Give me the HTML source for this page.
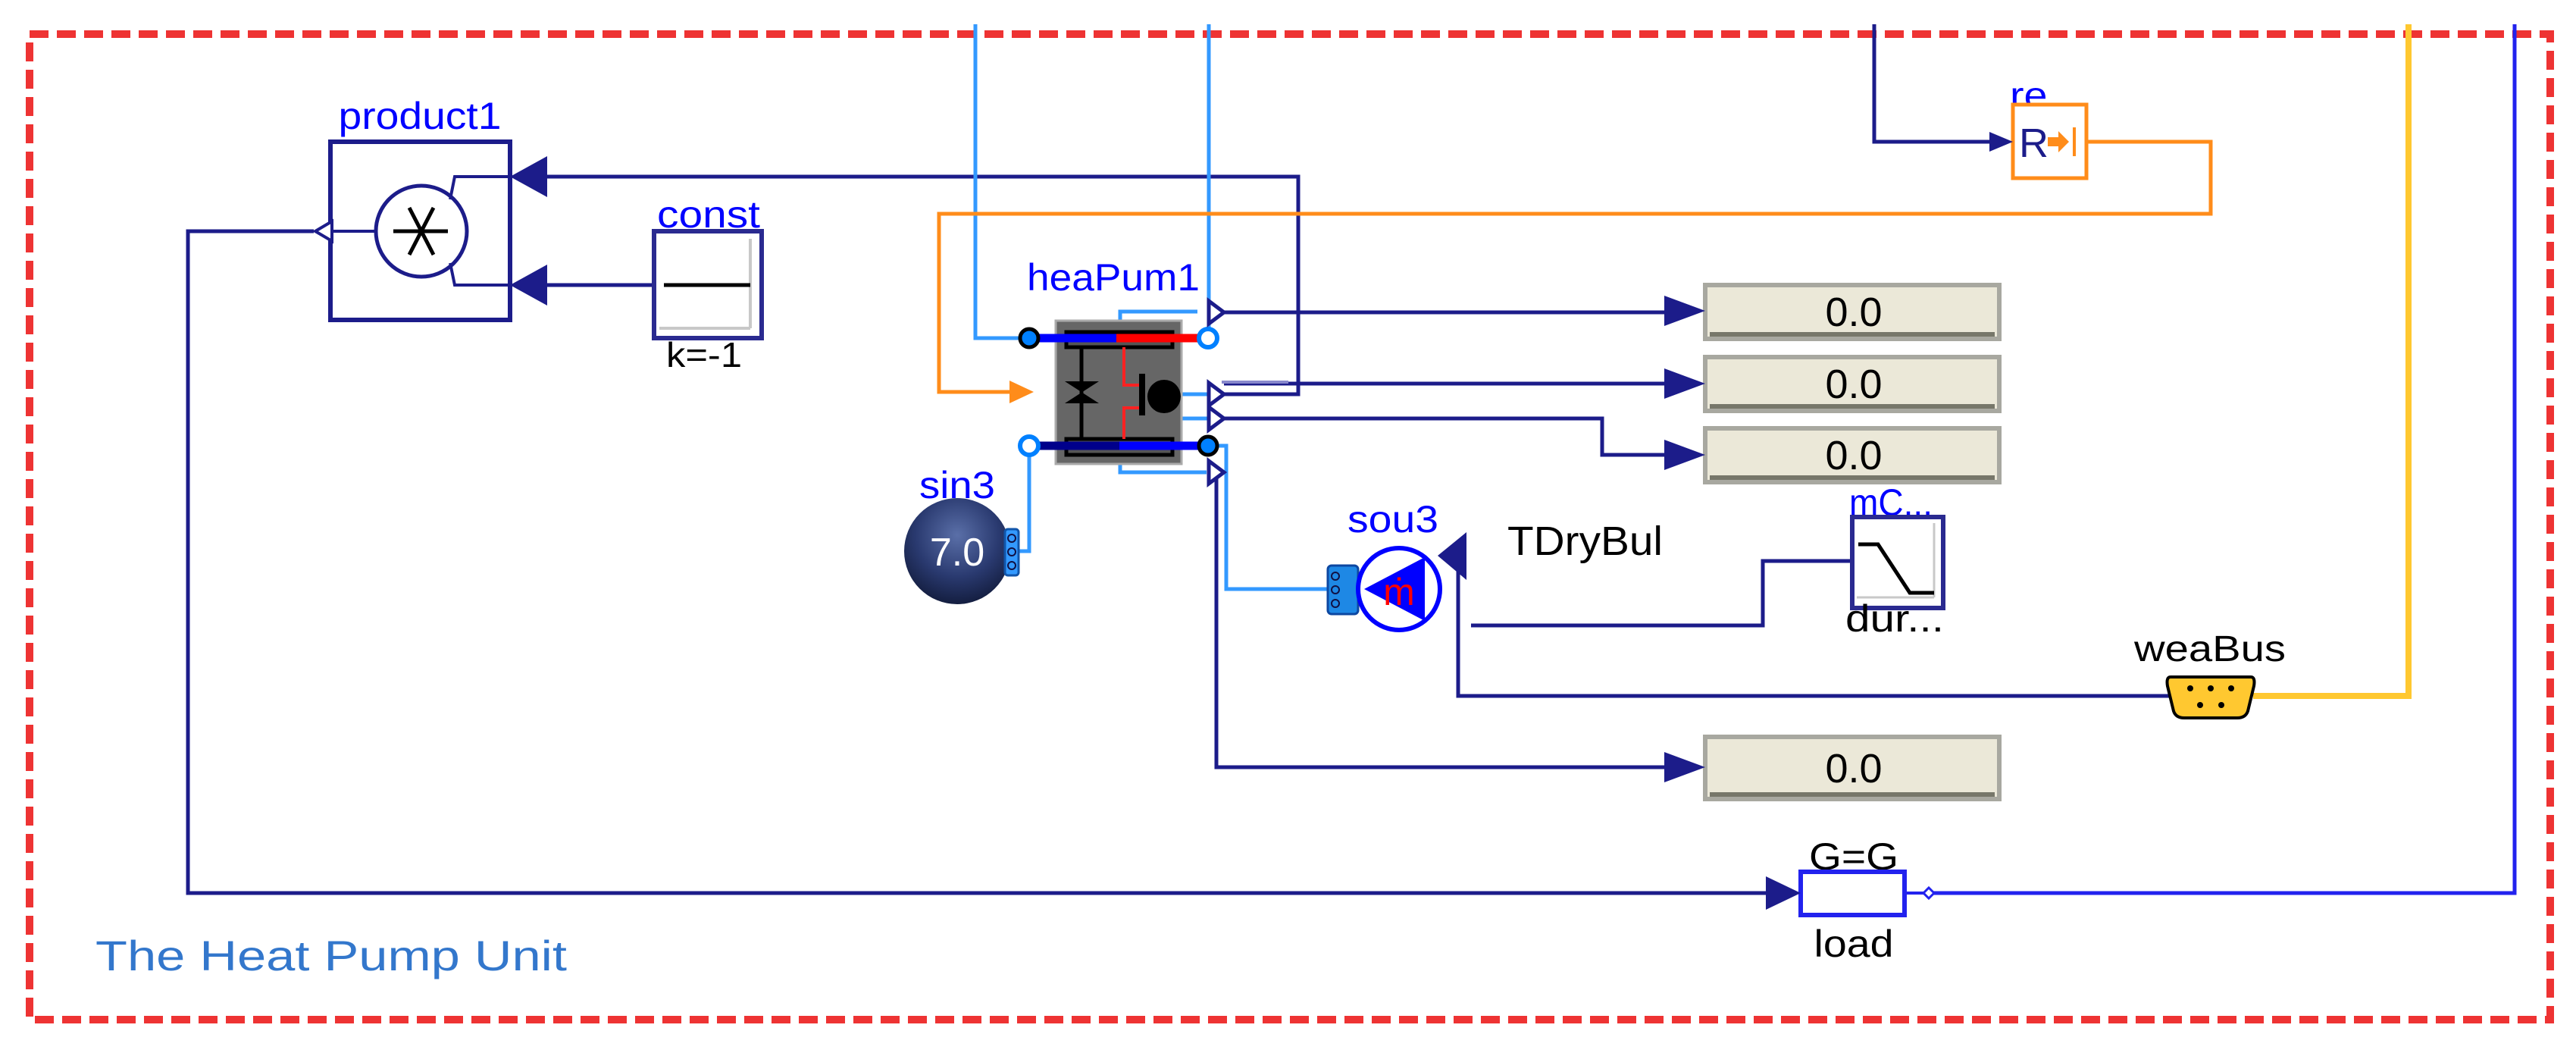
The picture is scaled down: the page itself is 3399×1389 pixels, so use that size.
<!DOCTYPE html>
<html><head><meta charset="utf-8"><style>
html,body{margin:0;padding:0;background:#fff;}
svg{display:block;}
text{font-family:"Liberation Sans",Arial,sans-serif;}
</style></head><body>
<svg width="3399" height="1389" viewBox="0 0 3399 1389" xmlns="http://www.w3.org/2000/svg">
<defs>
<radialGradient id="sg" cx="50%" cy="35%" r="65%">
<stop offset="0" stop-color="#5a6fa8"/><stop offset="0.6" stop-color="#2a3a70"/><stop offset="1" stop-color="#141e40"/>
</radialGradient>
</defs>
<rect x="39" y="45" width="3326" height="1300" fill="none" stroke="#ee3333" stroke-width="10" stroke-dasharray="25 11"/>

<g fill="none" stroke="#1c1c8a" stroke-width="5">
<polyline points="414,305 248,305 248,1178 2332,1178"/>
<polyline points="722,233 1713,233 1713,520 1615,520"/>
<line x1="863" y1="376" x2="722" y2="376"/>
<polyline points="1615,412 2200,412"/>
<polyline points="1615,506 2200,506"/>
<polyline points="1615,552 2114,552 2114,600 2200,600"/>
<polyline points="1605,623 1605,1012 2200,1012"/>
<polyline points="2473,32 2473,187 2625,187"/>
<polyline points="1941,825 2326,825 2326,740 2445,740"/>
<polyline points="1924,740 1924,918 2862,918"/>
</g>
<g fill="none" stroke="#3399ff" stroke-width="5">
<polyline points="1287,32 1287,446 1358,446"/>
<polyline points="1595,32 1595,446"/>
<polyline points="1336,727 1358,727 1358,588"/>
<polyline points="1594,588 1618,588 1618,777 1752,777"/>
<polyline points="1478,423 1478,411 1580,411"/>
<polyline points="1478,612 1478,623 1592,623"/>
<line x1="1559" y1="520" x2="1595" y2="520"/>
<line x1="1559" y1="552" x2="1595" y2="552"/>
</g>
<line x1="1612" y1="504" x2="1700" y2="504" stroke="#8888cc" stroke-width="4"/>
<polyline points="2754,187 2917,187 2917,282 1239,282 1239,517 1332,517" fill="none" stroke="#ff8c1a" stroke-width="5"/>
<polygon points="1332,502 1364,517 1332,532" fill="#ff8c1a"/>
<polyline points="2973,918 3178,918 3178,32" fill="none" stroke="#ffc830" stroke-width="8"/>
<polyline points="2545,1178 3318,1178 3318,32" fill="none" stroke="#2222ee" stroke-width="5"/>
<polygon points="2538,1178 2545,1171 2552,1178 2545,1185" fill="#fff" stroke="#2222ee" stroke-width="3"/>

<text x="554" y="170" font-size="50" fill="#0000ff" text-anchor="middle" textLength="215" lengthAdjust="spacingAndGlyphs">product1</text>
<rect x="436" y="187" width="237" height="235" fill="none" stroke="#1c1c8a" stroke-width="6"/>
<circle cx="556" cy="305" r="60" fill="#fff" stroke="#1c1c8a" stroke-width="5"/>
<g stroke="#000" stroke-width="5"><line x1="519" y1="305" x2="591" y2="305"/><line x1="540" y1="274" x2="572" y2="336"/><line x1="572" y1="274" x2="540" y2="336"/></g>
<g fill="none" stroke="#1c1c8a" stroke-width="4">
<polyline points="594,263 600,233 673,233"/><polyline points="594,347 600,376 673,376"/><line x1="438" y1="305" x2="496" y2="305"/></g>
<polygon points="722,206 673,233 722,260" fill="#1c1c8a"/>
<polygon points="722,349 673,376 722,403" fill="#1c1c8a"/>
<polygon points="438,292 416,305 438,318" fill="#fff" stroke="#1c1c8a" stroke-width="4"/>
<text x="935" y="300" font-size="50" fill="#0000ff" text-anchor="middle" textLength="136" lengthAdjust="spacingAndGlyphs">const</text>
<rect x="863" y="305" width="142" height="141" fill="#fff" stroke="#2a2a90" stroke-width="6"/>
<g stroke="#c8c8c8" stroke-width="4"><line x1="990" y1="315" x2="990" y2="433"/><line x1="870" y1="433" x2="990" y2="433"/></g>
<line x1="876" y1="376" x2="990" y2="376" stroke="#000" stroke-width="5"/>
<text x="929" y="484" font-size="46" fill="#000" text-anchor="middle" textLength="100" lengthAdjust="spacingAndGlyphs">k=-1</text>

<text x="1355" y="383" font-size="50" fill="#0000ff" textLength="228" lengthAdjust="spacingAndGlyphs">heaPum1</text>
<rect x="1393" y="423" width="166" height="189" fill="#666" stroke="#aaa" stroke-width="3"/>
<rect x="1407" y="438" width="140" height="20" fill="#555" stroke="#000" stroke-width="5"/>
<rect x="1407" y="579" width="140" height="21" fill="#555" stroke="#000" stroke-width="5"/>
<line x1="1427" y1="458" x2="1427" y2="579" stroke="#000" stroke-width="5"/>
<polygon points="1405,503 1450,503 1405,532 1450,532" fill="#000"/>
<polyline points="1483,458 1483,508 1505,508" fill="none" stroke="#ff2222" stroke-width="4"/>
<polyline points="1483,579 1483,538 1505,538" fill="none" stroke="#ff2222" stroke-width="4"/>
<rect x="1503" y="493" width="8" height="55" fill="#000"/>
<circle cx="1536" cy="523" r="22" fill="#000"/>
<line x1="1358" y1="446" x2="1473" y2="446" stroke="#0000ff" stroke-width="11"/>
<line x1="1473" y1="446" x2="1594" y2="446" stroke="#ff0000" stroke-width="11"/>
<line x1="1358" y1="588" x2="1477" y2="588" stroke="#00008b" stroke-width="11"/>
<line x1="1477" y1="588" x2="1594" y2="588" stroke="#0000ff" stroke-width="11"/>
<circle cx="1358" cy="446" r="12" fill="#0080ff" stroke="#000" stroke-width="5"/>
<circle cx="1594" cy="446" r="12" fill="#fff" stroke="#0080ff" stroke-width="6"/>
<circle cx="1358" cy="588" r="12" fill="#fff" stroke="#0080ff" stroke-width="6"/>
<circle cx="1594" cy="588" r="12" fill="#0080ff" stroke="#000" stroke-width="5"/>
<g fill="#fff" stroke="#1c1c8a" stroke-width="5">
<polygon points="1595,397 1615,412 1595,427"/>
<polygon points="1595,505 1615,520 1595,535"/>
<polygon points="1595,537 1615,552 1595,567"/>
<polygon points="1595,608 1615,623 1595,638"/>
</g>

<g>
<rect x="2250" y="376" width="388" height="71" fill="#ebe8d8" stroke="#a8a8a0" stroke-width="6"/>
<rect x="2250" y="471" width="388" height="71" fill="#ebe8d8" stroke="#a8a8a0" stroke-width="6"/>
<rect x="2250" y="565" width="388" height="71" fill="#ebe8d8" stroke="#a8a8a0" stroke-width="6"/>
<rect x="2250" y="972" width="388" height="82" fill="#ebe8d8" stroke="#a8a8a0" stroke-width="6"/>
<g stroke="#77776a" stroke-width="6"><line x1="2256" y1="441" x2="2632" y2="441"/><line x1="2256" y1="536" x2="2632" y2="536"/><line x1="2256" y1="630" x2="2632" y2="630"/><line x1="2256" y1="1048" x2="2632" y2="1048"/></g>
<g font-size="54" fill="#000" text-anchor="middle">
<text x="2446" y="430">0.0</text><text x="2446" y="525">0.0</text><text x="2446" y="619">0.0</text><text x="2446" y="1032">0.0</text></g>
<g fill="#1c1c8a">
<polygon points="2196,390 2250,410 2196,430"/>
<polygon points="2196,486 2250,506 2196,526"/>
<polygon points="2196,580 2250,600 2196,620"/>
<polygon points="2196,992 2250,1012 2196,1032"/>
</g>
</g>

<text x="1263" y="657" font-size="50" fill="#0000ff" text-anchor="middle" textLength="100" lengthAdjust="spacingAndGlyphs">sin3</text>
<circle cx="1263" cy="727" r="70" fill="url(#sg)"/>
<text x="1263" y="746" font-size="52" fill="#fff" text-anchor="middle">7.0</text>
<rect x="1326" y="698" width="18" height="61" rx="4" fill="#3399ff" stroke="#1155aa" stroke-width="3"/>
<g fill="none" stroke="#114" stroke-width="2"><circle cx="1335" cy="710" r="5"/><circle cx="1335" cy="728" r="5"/><circle cx="1335" cy="746" r="5"/></g>

<text x="1838" y="702" font-size="50" fill="#0000ff" text-anchor="middle" textLength="120" lengthAdjust="spacingAndGlyphs">sou3</text>
<rect x="1752" y="746" width="40" height="64" rx="5" fill="#1e88e5" stroke="#0d47a1" stroke-width="3"/>
<g fill="none" stroke="#114" stroke-width="2"><circle cx="1762" cy="760" r="5"/><circle cx="1762" cy="778" r="5"/><circle cx="1762" cy="796" r="5"/></g>
<circle cx="1846" cy="777" r="54" fill="#fff" stroke="#0000ff" stroke-width="6"/>
<polygon points="1880,735 1880,819 1800,777" fill="#0000ff"/>
<text x="1846" y="798" font-size="50" fill="#ff0000" text-anchor="middle">ṁ</text>
<polygon points="1935,702 1935,765 1897,733" fill="#1c1c8a"/>
<text x="1989" y="732" font-size="54" fill="#000" textLength="205" lengthAdjust="spacingAndGlyphs">TDryBul</text>

<text x="2495" y="680" font-size="50" fill="#0000ff" text-anchor="middle" textLength="110" lengthAdjust="spacingAndGlyphs">mC...</text>
<rect x="2444" y="682" width="120" height="120" fill="#fff" stroke="#2a2a90" stroke-width="6"/>
<g stroke="#c8c8c8" stroke-width="3"><line x1="2552" y1="690" x2="2552" y2="788"/><line x1="2450" y1="788" x2="2552" y2="788"/></g>
<polyline points="2452,718 2478,718 2520,782 2552,782" fill="none" stroke="#000" stroke-width="5"/>
<text x="2500" y="833" font-size="50" fill="#000" text-anchor="middle" textLength="130" lengthAdjust="spacingAndGlyphs">dur...</text>

<text x="2916" y="872" font-size="48" fill="#000" text-anchor="middle" textLength="200" lengthAdjust="spacingAndGlyphs">weaBus</text>
<path d="M2864,893 L2970,893 Q2976,893 2974,905 L2966,938 Q2963,947 2952,947 L2882,947 Q2871,947 2868,938 L2860,905 Q2858,893 2864,893 Z" fill="#ffc830" stroke="#000" stroke-width="4"/>
<g fill="#000"><circle cx="2890" cy="908" r="4"/><circle cx="2917" cy="908" r="4"/><circle cx="2944" cy="908" r="4"/><circle cx="2903" cy="930" r="4"/><circle cx="2931" cy="930" r="4"/></g>

<text x="2700" y="142" font-size="48" fill="#0000ff" text-anchor="middle" textLength="96" lengthAdjust="spacingAndGlyphs">re...</text>
<rect x="2656" y="138" width="97" height="97" fill="#fff" stroke="#ff8c1a" stroke-width="5"/>
<polygon points="2625,174 2656,187 2625,200" fill="#1c1c8a"/>
<text x="2664" y="207" font-size="54" fill="#1c1c8a">R</text>
<polygon points="2702,181 2716,181 2716,173 2730,187 2716,201 2716,193 2702,193" fill="#ff8c1a"/>
<line x1="2737" y1="168" x2="2737" y2="206" stroke="#ff8c1a" stroke-width="4"/>

<text x="2446" y="1147" font-size="50" fill="#000" text-anchor="middle" textLength="118" lengthAdjust="spacingAndGlyphs">G=G</text>
<rect x="2376" y="1150" width="137" height="57" fill="#fff" stroke="#2222ee" stroke-width="6"/>
<polygon points="2330,1156 2376,1178 2330,1200" fill="#1c1c8a"/>
<line x1="2513" y1="1178" x2="2538" y2="1178" stroke="#2222ee" stroke-width="4"/>
<text x="2446" y="1262" font-size="50" fill="#000" text-anchor="middle" textLength="105" lengthAdjust="spacingAndGlyphs">load</text>

<text x="126" y="1280" font-size="56" fill="#3377cc" textLength="622" lengthAdjust="spacingAndGlyphs">The Heat Pump Unit</text>
</svg>
</body></html>
